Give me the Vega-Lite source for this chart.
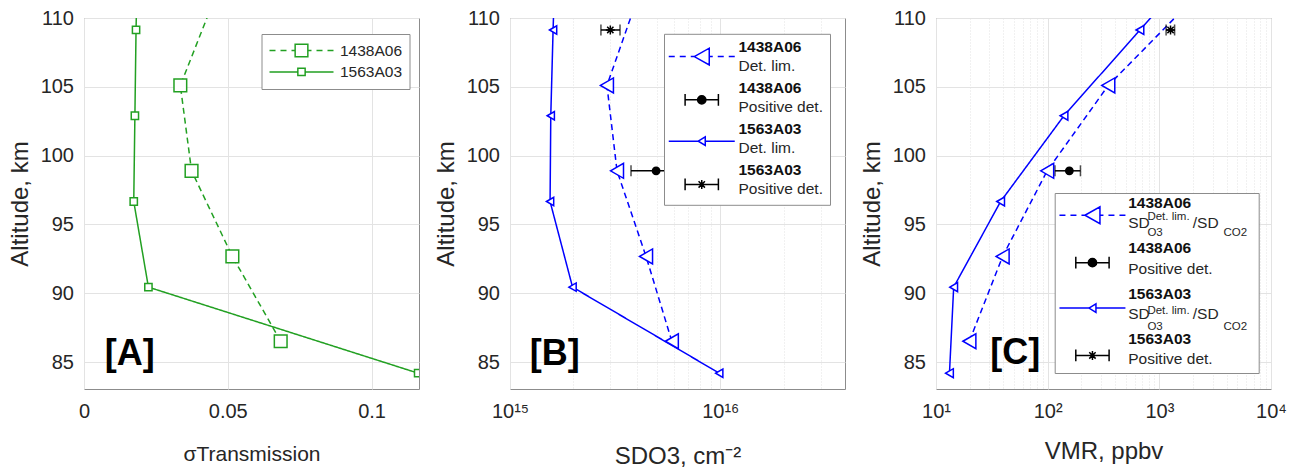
{
  "$schema": "https://vega.github.io/schema/vega-lite/v6.json",
  "background": "white",
  "padding": {"left": 7, "top": 7, "right": 0, "bottom": 0},
  "spacing": 13,
  "resolve": {
    "scale": {"shape": "independent", "size": "independent", "strokeDash": "independent", "opacity": "independent", "strokeWidth": "independent", "fill": "independent", "stroke": "independent", "color": "independent"},
    "legend": {"shape": "independent", "size": "independent", "strokeDash": "independent", "opacity": "independent", "strokeWidth": "independent", "fill": "independent", "stroke": "independent", "color": "independent"}
  },
  "datasets": {
    "A": [
      {"run": "1438A06", "alt": 86.52, "v": 0.0684},
      {"run": "1438A06", "alt": 92.68, "v": 0.0516},
      {"run": "1438A06", "alt": 98.9, "v": 0.0374},
      {"run": "1438A06", "alt": 105.1, "v": 0.0335},
      {"run": "1438A06", "alt": 111.3, "v": 0.0452},
      {"run": "1563A03", "alt": 84.2, "v": 0.1162},
      {"run": "1563A03", "alt": 90.45, "v": 0.0224},
      {"run": "1563A03", "alt": 96.67, "v": 0.0173},
      {"run": "1563A03", "alt": 102.9, "v": 0.0177},
      {"run": "1563A03", "alt": 109.13, "v": 0.0181},
      {"run": "1563A03", "alt": 115.35, "v": 0.0187}
    ],
    "B_lim": [
      {"entry": "1438A06 Det. lim.", "alt": 86.52, "v": 5.885e15},
      {"entry": "1438A06 Det. lim.", "alt": 92.68, "v": 4.437e15},
      {"entry": "1438A06 Det. lim.", "alt": 98.9, "v": 3.228e15},
      {"entry": "1438A06 Det. lim.", "alt": 105.1, "v": 2.891e15},
      {"entry": "1438A06 Det. lim.", "alt": 111.3, "v": 4.01e15},
      {"entry": "1563A03 Det. lim.", "alt": 84.2, "v": 9.89e15},
      {"entry": "1563A03 Det. lim.", "alt": 90.45, "v": 1.984e15},
      {"entry": "1563A03 Det. lim.", "alt": 96.67, "v": 1.551e15},
      {"entry": "1563A03 Det. lim.", "alt": 102.9, "v": 1.563e15},
      {"entry": "1563A03 Det. lim.", "alt": 109.13, "v": 1.603e15},
      {"entry": "1563A03 Det. lim.", "alt": 115.35, "v": 1.65e15}
    ],
    "B_pos": [
      {"entry": "1438A06 Positive det.", "alt": 98.9, "v": 4.953e15, "lo": 3.763e15, "hi": 6.143e15},
      {"entry": "1563A03 Positive det.", "alt": 109.13, "v": 3.0e15, "lo": 2.707e15, "hi": 3.336e15}
    ],
    "C_lim": [
      {"entry": "1438A06 Det. lim.", "alt": 86.52, "v": 19.9},
      {"entry": "1438A06 Det. lim.", "alt": 92.68, "v": 39.5},
      {"entry": "1438A06 Det. lim.", "alt": 98.9, "v": 99},
      {"entry": "1438A06 Det. lim.", "alt": 105.1, "v": 349},
      {"entry": "1438A06 Det. lim.", "alt": 111.3, "v": 1972},
      {"entry": "1563A03 Det. lim.", "alt": 84.2, "v": 13.2},
      {"entry": "1563A03 Det. lim.", "alt": 90.45, "v": 14.4},
      {"entry": "1563A03 Det. lim.", "alt": 96.67, "v": 37.9},
      {"entry": "1563A03 Det. lim.", "alt": 102.9, "v": 140},
      {"entry": "1563A03 Det. lim.", "alt": 109.13, "v": 670},
      {"entry": "1563A03 Det. lim.", "alt": 115.35, "v": 3208}
    ],
    "C_pos": [
      {"entry": "1438A06 Positive det.", "alt": 98.9, "v": 156.4, "lo": 116.2, "hi": 196.6},
      {"entry": "1563A03 Positive det.", "alt": 109.13, "v": 1260, "lo": 1150, "hi": 1370}
    ]
  },
  "hconcat": [
    {
      "width": 335,
      "height": 371,
      "encoding": {
        "y": {"field": "alt", "type": "quantitative", "scale": {"domain": [83.05, 110], "nice": false, "zero": false}, "axis": {"values": [85, 90, 95, 100, 105, 110], "title": "Altitude, km", "grid": true}},
        "x": {"field": "v", "type": "quantitative", "scale": {"domain": [0, 0.1165], "nice": false, "zero": false}, "axis": {"values": [0, 0.05, 0.1], "format": "~g", "title": "σTransmission", "titleFontSize": 21, "titlePadding": 22, "grid": true}}
      },
      "layer": [
        {
          "data": {"name": "A"},
          "mark": {"type": "line", "color": "#22a022", "strokeWidth": 1.5, "clip": true},
          "encoding": {
            "order": {"field": "alt", "type": "quantitative"},
            "strokeDash": {"field": "run", "type": "nominal", "scale": {"domain": ["1563A03", "1438A06"], "range": [[1, 0], [6, 4]]}, "legend": null}
          }
        },
        {
          "data": {"name": "A"},
          "transform": [{"filter": "datum.alt < 110"}],
          "mark": {"type": "point", "shape": "square", "filled": true, "fill": "white", "stroke": "#22a022", "strokeWidth": 1.5, "opacity": 1, "clip": true},
          "encoding": {
            "size": {"field": "run", "type": "nominal", "scale": {"type": "ordinal", "domain": ["1563A03", "1438A06"], "range": [53, 161]}, "legend": null}
          }
        },
        {
          "data": {"name": "A"},
          "transform": [{"filter": "false"}],
          "mark": {"type": "point", "filled": true, "fill": "white", "stroke": "#22a022", "strokeWidth": 1.5, "opacity": 1},
          "encoding": {
            "shape": {
              "field": "run", "type": "nominal",
              "scale": {"domain": ["1438A06", "1563A03"], "range": ["M-6.4,0H-5.2M-4.2,0H-3M-2,0H-1.27M1.27,0H2M3,0H4.2M5.2,0H6.4M-1.27,-1.27H1.27V1.27H-1.27Z", "M-6.4,0H-0.73M0.73,0H6.4M-0.73,-0.73H0.73V0.73H-0.73Z"]},
              "legend": {
                "orient": "none", "legendX": 177.5, "legendY": 16, "title": null,
                "padding": 7, "fillColor": "white", "strokeColor": "#8c8c8c",
                "symbolSize": 100, "symbolStrokeWidth": 1.5, "symbolOffset": 25.25, "labelOffset": 30.75,
                "clipHeight": 19, "rowPadding": 2.4, "labelFontSize": 15.5, "labelFont": "Liberation Sans", "labelColor": "#262626",
                "encode": {
                  "symbols": {"fill": {"value": "white"}, "stroke": {"value": "#22a022"}, "opacity": {"value": 1}, "strokeDash": {"value": []}}
                }
              }
            }
          }
        },
        {
          "data": {"values": [{"label": "[A]", "v": 0.0159, "alt": 84.78}]},
          "mark": {"type": "text", "font": "Liberation Sans", "fontSize": 36, "fontWeight": "bold", "align": "center", "baseline": "alphabetic", "color": "black"},
          "encoding": {"text": {"field": "label"}}
        }
      ]
    },
    {
      "width": 335,
      "height": 371,
      "encoding": {
        "y": {"field": "alt", "type": "quantitative", "scale": {"domain": [83.05, 110], "nice": false, "zero": false}, "axis": {"values": [85, 90, 95, 100, 105, 110], "title": "Altitude, km", "grid": true}},
        "x": {"field": "v", "type": "quantitative", "scale": {"type": "log", "domain": [1e15, 3.92e16], "nice": false}, "axis": {
          "values": [1e15, 2e15, 3e15, 4e15, 5e15, 6e15, 7e15, 8e15, 9e15, 1e16, 2e16, 3e16],
          "labelExpr": "datum.value == 1e15 ? '10¹⁵' : datum.value == 1e16 ? '10¹⁶' : ''",
          "gridDash": {"condition": {"test": "datum.value == 1e15 || datum.value == 1e16", "value": []}, "value": [1, 2]},
          "title": "SDO3, cm⁻²", "titlePadding": 23, "grid": true}}
      },
      "layer": [
        {
          "data": {"name": "B_lim"},
          "mark": {"type": "line", "color": "#0000ff", "strokeWidth": 1.5, "clip": true},
          "encoding": {
            "order": {"field": "alt", "type": "quantitative"},
            "strokeDash": {"field": "entry", "type": "nominal", "scale": {"domain": ["1438A06 Det. lim.", "1563A03 Det. lim."], "range": [[6, 4], [1, 0]]}, "legend": null},
            "opacity": {
              "field": "entry", "type": "nominal",
              "scale": {"type": "ordinal", "domain": ["1563A03 Positive det.", "1563A03 Det. lim.", "1438A06 Positive det.", "1438A06 Det. lim."], "range": [1, 1, 1, 1]},
              "legend": {
                "values": ["1438A06 Det. lim.", "1438A06 Positive det.", "1563A03 Det. lim.", "1563A03 Positive det."],
                "orient": "none", "legendX": 154, "legendY": 15.8, "title": null,
                "padding": 6.5, "fillColor": "white", "strokeColor": "#8c8c8c",
                "symbolSize": 0, "symbolOffset": 23.5, "labelOffset": 29,
                "rowPadding": 7.3, "labelFontSize": 15.5, "labelFont": "Liberation Sans", "labelColor": "#262626", "labelLimit": 300,
                "labelExpr": "['', indexof(datum.value, 'Positive') >= 0 ? 'Positive det.' : 'Det. lim.']",
                "encode": {"symbols": {"stroke": {"value": "transparent"}, "fill": {"value": "transparent"}}}
              }
            }
          }
        },
        {
          "data": {"name": "B_pos"},
          "mark": {"type": "errorbar", "ticks": true, "size": 11, "thickness": 1.5, "color": "black"},
          "encoding": {"x": {"field": "lo", "type": "quantitative"}, "x2": {"field": "hi"}}
        },
        {
          "data": {"name": "B_lim"},
          "transform": [{"filter": "datum.alt < 110 && datum.entry == '1438A06 Det. lim.'"}],
          "mark": {"type": "point", "shape": "triangle-left", "size": 225, "filled": true, "fill": "white", "stroke": "#0000ff", "opacity": 1, "clip": true},
          "encoding": {
            "strokeWidth": {
              "field": "entry", "type": "nominal",
              "scale": {"type": "ordinal", "domain": ["1563A03 Positive det.", "1438A06 Det. lim.", "1438A06 Positive det.", "1563A03 Det. lim."], "range": [1.5, 1.5, 1.5, 1.5]},
              "legend": {
                "values": ["1438A06 Det. lim.", "1438A06 Positive det.", "1563A03 Det. lim.", "1563A03 Positive det."],
                "orient": "none", "legendX": 154, "legendY": 14.3, "title": null,
                "padding": 6.5,
                "symbolSize": 0, "symbolOffset": 23.5, "labelOffset": 29,
                "rowPadding": 7.3, "labelFontSize": 15.5, "labelFont": "Liberation Sans", "labelFontWeight": "bold", "labelColor": "#111111", "labelLimit": 300,
                "labelExpr": "[slice(datum.value, 0, 7), '']",
                "encode": {"symbols": {"stroke": {"value": "transparent"}, "fill": {"value": "transparent"}}}
              }
            }
          }
        },
        {
          "data": {"name": "B_lim"},
          "transform": [{"filter": "datum.alt < 110 && datum.entry == '1563A03 Det. lim.'"}],
          "mark": {"type": "point", "shape": "triangle-left", "size": 70, "filled": true, "fill": "white", "stroke": "#0000ff", "strokeWidth": 1.5, "opacity": 1, "clip": true}
        },
        {
          "data": {"name": "B_lim"},
          "transform": [{"filter": "false"}],
          "mark": {"type": "point", "filled": true, "strokeWidth": 1.5, "opacity": 1},
          "encoding": {
            "shape": {
              "field": "entry", "type": "nominal",
              "scale": {"domain": ["1438A06 Det. lim.", "1438A06 Positive det.", "1563A03 Det. lim.", "1563A03 Positive det."], "range": [
                "M-6.6,0H-5.4M-4.4,0H-3.2M-2.2,0H-1.5M1.5,0H2.2M3.2,0H4.4M5.4,0H6.6M-1.5,0L1.5,-1.67L1.5,1.67Z",
                "M-3.33,0H3.33M-3.33,-1.17V1.17M3.33,-1.17V1.17M0.83,0A0.83,0.83,0,1,1,-0.83,0A0.83,0.83,0,1,1,0.83,0Z",
                "M-6.6,0H-0.7M0.7,0H6.6M-0.7,0L0.7,-0.85L0.7,0.85Z",
                "M-3.33,0H3.33M-3.33,-1.17V1.17M3.33,-1.17V1.17M0,-0.9V0.9M-0.64,-0.64L0.64,0.64M-0.64,0.64L0.64,-0.64"]},
              "legend": {
                "values": ["1438A06 Det. lim.", "1438A06 Positive det.", "1563A03 Det. lim.", "1563A03 Positive det."],
                "orient": "none", "legendX": 154, "legendY": 24.3, "title": null,
                "padding": 6.5,
                "symbolSize": 100, "symbolStrokeWidth": 1.5, "symbolOffset": 23.5, "labelOffset": 29,
                "rowPadding": 7.3, "labelFontSize": 15.5, "labelFont": "Liberation Sans", "labelLimit": 300,
                "labelExpr": "['', '']",
                "encode": {"symbols": {"opacity": {"value": 1}, "strokeDash": {"value": []}}}
              }
            },
            "fill": {"field": "entry", "type": "nominal", "scale": {"domain": ["1438A06 Det. lim.", "1438A06 Positive det.", "1563A03 Det. lim.", "1563A03 Positive det."], "range": ["white", "black", "white", "white"]}},
            "stroke": {"field": "entry", "type": "nominal", "scale": {"domain": ["1438A06 Det. lim.", "1438A06 Positive det.", "1563A03 Det. lim.", "1563A03 Positive det."], "range": ["#0000ff", "black", "#0000ff", "black"]}}
          }
        },
        {
          "data": {"name": "B_pos"},
          "transform": [{"filter": "datum.entry == '1438A06 Positive det.'"}],
          "mark": {"type": "point", "shape": "circle", "size": 54, "filled": true, "fill": "black", "stroke": "black", "strokeWidth": 1.5, "opacity": 1}
        },
        {
          "data": {"name": "B_pos"},
          "transform": [{"filter": "datum.entry == '1563A03 Positive det.'"}],
          "mark": {"type": "point", "shape": "M0,-1V1M-1,0H1M-0.7,-0.7L0.7,0.7M-0.7,0.7L0.7,-0.7", "size": 81, "filled": false, "stroke": "black", "strokeWidth": 1.5, "opacity": 1}
        },
        {
          "data": {"values": [{"label": "[B]", "v": 1.633e15, "alt": 84.78}]},
          "mark": {"type": "text", "font": "Liberation Sans", "fontSize": 36, "fontWeight": "bold", "align": "center", "baseline": "alphabetic", "color": "black"},
          "encoding": {"text": {"field": "label"}}
        }
      ]
    },
    {
      "width": 335,
      "height": 371,
      "encoding": {
        "y": {"field": "alt", "type": "quantitative", "scale": {"domain": [83.05, 110], "nice": false, "zero": false}, "axis": {"values": [85, 90, 95, 100, 105, 110], "title": "Altitude, km", "grid": true}},
        "x": {"field": "v", "type": "quantitative", "scale": {"type": "log", "domain": [10, 10000], "nice": false}, "axis": {
          "values": [10, 20, 30, 40, 50, 60, 70, 80, 90, 100, 200, 300, 400, 500, 600, 700, 800, 900, 1000, 2000, 3000, 4000, 5000, 6000, 7000, 8000, 9000, 10000],
          "labelExpr": "datum.value == 10 ? '10¹' : datum.value == 100 ? '10²' : datum.value == 1000 ? '10³' : datum.value == 10000 ? '10⁴' : ''",
          "gridDash": {"condition": {"test": "datum.value == 10 || datum.value == 100 || datum.value == 1000 || datum.value == 10000", "value": []}, "value": [1, 2]},
          "title": "VMR, ppbv", "titlePadding": 18, "grid": true}}
      },
      "layer": [
        {
          "data": {"name": "C_lim"},
          "mark": {"type": "line", "color": "#0000ff", "strokeWidth": 1.5, "clip": true},
          "encoding": {
            "order": {"field": "alt", "type": "quantitative"},
            "strokeDash": {"field": "entry", "type": "nominal", "scale": {"domain": ["1438A06 Det. lim.", "1563A03 Det. lim."], "range": [[6, 4], [1, 0]]}, "legend": null},
            "opacity": {
              "field": "entry", "type": "nominal",
              "scale": {"type": "ordinal", "domain": ["1563A03 Positive det.", "1563A03 Det. lim.", "1438A06 Positive det.", "1438A06 Det. lim."], "range": [1, 1, 1, 1]},
              "legend": {
                "values": ["1438A06 Det. lim.", "1438A06 Positive det.", "1563A03 Det. lim.", "1563A03 Positive det."],
                "orient": "none", "legendX": 118.7, "legendY": 175, "title": null,
                "padding": 5, "fillColor": "white", "strokeColor": "#8c8c8c",
                "symbolSize": 0, "symbolOffset": 25, "labelOffset": 28,
                "rowPadding": 11.4, "labelFontSize": 15.5, "labelFont": "Liberation Sans", "labelColor": "#262626", "labelLimit": 300,
                "labelExpr": "['', indexof(datum.value, 'Positive') >= 0 ? 'Positive det.' : 'SD\u00a0\u00a0\u00a0\u00a0\u00a0\u00a0\u00a0\u00a0\u00a0\u00a0/SD\u00a0\u00a0\u00a0\u00a0\u00a0\u00a0\u00a0\u00a0\u200b']",
                "encode": {"symbols": {"stroke": {"value": "transparent"}, "fill": {"value": "transparent"}}}
              }
            }
          }
        },
        {
          "data": {"name": "C_pos"},
          "mark": {"type": "errorbar", "ticks": true, "size": 11, "thickness": 1.5, "color": "black"},
          "encoding": {"x": {"field": "lo", "type": "quantitative"}, "x2": {"field": "hi"}}
        },
        {
          "data": {"name": "C_lim"},
          "transform": [{"filter": "datum.alt < 110 && datum.entry == '1438A06 Det. lim.'"}],
          "mark": {"type": "point", "shape": "triangle-left", "size": 225, "filled": true, "fill": "white", "stroke": "#0000ff", "opacity": 1, "clip": true},
          "encoding": {
            "strokeWidth": {
              "field": "entry", "type": "nominal",
              "scale": {"type": "ordinal", "domain": ["1563A03 Positive det.", "1438A06 Det. lim.", "1438A06 Positive det.", "1563A03 Det. lim."], "range": [1.5, 1.5, 1.5, 1.5]},
              "legend": {
                "values": ["1438A06 Det. lim.", "1438A06 Positive det.", "1563A03 Det. lim.", "1563A03 Positive det."],
                "orient": "none", "legendX": 118.7, "legendY": 172, "title": null,
                "padding": 5,
                "symbolSize": 0, "symbolOffset": 25, "labelOffset": 28,
                "rowPadding": 11.4, "labelFontSize": 15.5, "labelFont": "Liberation Sans", "labelFontWeight": "bold", "labelColor": "#111111", "labelLimit": 300,
                "labelExpr": "[slice(datum.value, 0, 7), '']",
                "encode": {"symbols": {"stroke": {"value": "transparent"}, "fill": {"value": "transparent"}}}
              }
            }
          }
        },
        {
          "data": {"name": "C_lim"},
          "transform": [{"filter": "datum.alt < 110 && datum.entry == '1563A03 Det. lim.'"}],
          "mark": {"type": "point", "shape": "triangle-left", "size": 80, "filled": true, "fill": "white", "stroke": "#0000ff", "strokeWidth": 1.5, "opacity": 1, "clip": true}
        },
        {
          "data": {"name": "C_lim"},
          "transform": [{"filter": "false"}],
          "mark": {"type": "point", "filled": true, "strokeWidth": 1.5, "opacity": 1},
          "encoding": {
            "shape": {
              "field": "entry", "type": "nominal",
              "scale": {"domain": ["1438A06 Det. lim.", "1438A06 Positive det.", "1563A03 Det. lim.", "1563A03 Positive det."], "range": [
                "M-6.6,0H-5.4M-4.4,0H-3.2M-2.2,0H-1.5M1.5,0H2.2M3.2,0H4.4M5.4,0H6.6M-1.5,0L1.5,-1.67L1.5,1.67Z",
                "M-3.33,0H3.33M-3.33,-1.17V1.17M3.33,-1.17V1.17M0.83,0A0.83,0.83,0,1,1,-0.83,0A0.83,0.83,0,1,1,0.83,0Z",
                "M-6.6,0H-0.7M0.7,0H6.6M-0.7,0L0.7,-0.85L0.7,0.85Z",
                "M-3.33,0H3.33M-3.33,-1.17V1.17M3.33,-1.17V1.17M0,-0.9V0.9M-0.64,-0.64L0.64,0.64M-0.64,0.64L0.64,-0.64"]},
              "legend": {
                "values": ["1438A06 Det. lim.", "1438A06 Positive det.", "1563A03 Det. lim.", "1563A03 Positive det."],
                "orient": "none", "legendX": 118.7, "legendY": 184.5, "title": null,
                "padding": 5,
                "symbolSize": 100, "symbolStrokeWidth": 1.5, "symbolOffset": 25, "labelOffset": 28,
                "rowPadding": 11.4, "labelFontSize": 15.5, "labelFont": "Liberation Sans", "labelLimit": 300,
                "labelExpr": "['', '']",
                "encode": {"symbols": {"opacity": {"value": 1}, "strokeDash": {"value": []}}}
              }
            },
            "fill": {"field": "entry", "type": "nominal", "scale": {"domain": ["1438A06 Det. lim.", "1438A06 Positive det.", "1563A03 Det. lim.", "1563A03 Positive det."], "range": ["white", "black", "white", "white"]}},
            "stroke": {"field": "entry", "type": "nominal", "scale": {"domain": ["1438A06 Det. lim.", "1438A06 Positive det.", "1563A03 Det. lim.", "1563A03 Positive det."], "range": ["#0000ff", "black", "#0000ff", "black"]}},
            "size": {
              "field": "entry", "type": "nominal",
              "scale": {"type": "ordinal", "domain": ["1563A03 Det. lim.", "1563A03 Positive det.", "1438A06 Det. lim.", "1438A06 Positive det."], "range": [0, 0, 0, 0]},
              "legend": {
                "values": ["1438A06 Det. lim.", "1438A06 Positive det.", "1563A03 Det. lim.", "1563A03 Positive det."],
                "orient": "none", "legendX": 118.7, "legendY": 187.9, "title": null,
                "padding": 5,
                "symbolOffset": 25, "labelOffset": 51.2,
                "rowPadding": 34.1, "labelFontSize": 11.5, "labelFont": "Liberation Sans", "labelColor": "#262626", "labelLimit": 300,
                "labelExpr": "indexof(datum.value, 'Positive') >= 0 ? '' : 'Det. lim.'",
                "encode": {"symbols": {"stroke": {"value": "transparent"}, "fill": {"value": "transparent"}}}
              }
            }
          }
        },
        {
          "data": {"name": "C_pos"},
          "transform": [{"filter": "datum.entry == '1438A06 Positive det.'"}],
          "mark": {"type": "point", "shape": "circle", "size": 54, "filled": true, "stroke": "black", "strokeWidth": 1.5, "opacity": 1},
          "encoding": {
            "color": {
              "field": "entry", "type": "nominal",
              "scale": {"domain": ["1438A06 Positive det.", "1438A06 Det. lim.", "1563A03 Positive det.", "1563A03 Det. lim."], "range": ["black", "black", "black", "black"]},
              "legend": {
                "values": ["1438A06 Det. lim.", "1438A06 Positive det.", "1563A03 Det. lim.", "1563A03 Positive det."],
                "orient": "none", "legendX": 118.7, "legendY": 204.2, "title": null,
                "padding": 5,
                "symbolSize": 0, "symbolOffset": 25, "labelOffset": 51.2,
                "rowPadding": 34.1, "labelFontSize": 11.5, "labelFont": "Liberation Sans", "labelColor": "#262626", "labelLimit": 300,
                "labelExpr": "indexof(datum.value, 'Positive') >= 0 ? '' : 'O3\u00a0\u00a0\u00a0\u00a0\u00a0\u00a0\u00a0\u00a0\u00a0\u00a0\u00a0\u00a0\u00a0\u00a0\u00a0\u00a0\u00a0\u00a0\u00a0CO2'",
                "encode": {"symbols": {"stroke": {"value": "transparent"}, "fill": {"value": "transparent"}}}
              }
            }
          }
        },
        {
          "data": {"name": "C_pos"},
          "transform": [{"filter": "datum.entry == '1563A03 Positive det.'"}],
          "mark": {"type": "point", "shape": "M0,-1V1M-1,0H1M-0.7,-0.7L0.7,0.7M-0.7,0.7L0.7,-0.7", "size": 81, "filled": false, "stroke": "black", "strokeWidth": 1.5, "opacity": 1}
        },
        {
          "data": {"values": [{"label": "[C]", "v": 51.2, "alt": 84.85}]},
          "mark": {"type": "text", "font": "Liberation Sans", "fontSize": 36, "fontWeight": "bold", "align": "center", "baseline": "alphabetic", "color": "black"},
          "encoding": {"text": {"field": "label"}}
        }
      ]
    }
  ],
  "config": {
    "font": "Liberation Sans",
    "view": {"stroke": "#8c8c8c", "strokeWidth": 1},
    "axis": {
      "domain": false, "ticks": false, "tickSize": 0,
      "labelFont": "Liberation Sans", "labelFontSize": 20, "labelColor": "#262626",
      "titleFont": "Liberation Sans", "titleFontSize": 24, "titleFontWeight": "normal", "titleColor": "#262626",
      "gridColor": "#e3e3e3", "labelFlush": false, "labelOverlap": false
    },
    "axisY": {"labelPadding": 10.5, "minExtent": 44, "maxExtent": 44, "titlePadding": 8},
    "axisX": {"labelPadding": 12}
  }
}
